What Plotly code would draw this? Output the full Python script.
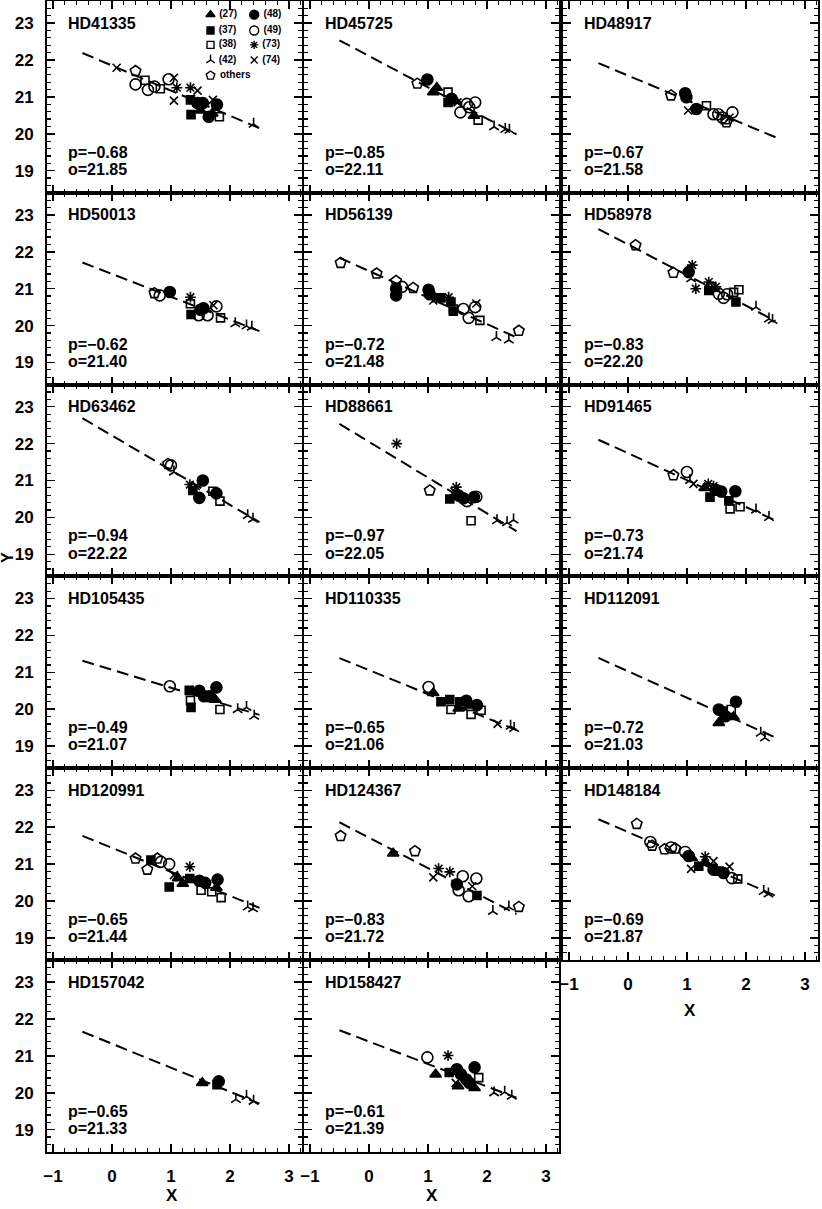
import plotly.graph_objects as go

# ---------------- data ----------------
names = ["HD41335", "HD45725", "HD48917", "HD50013", "HD56139", "HD58978",
         "HD63462", "HD88661", "HD91465", "HD105435", "HD110335", "HD112091",
         "HD120991", "HD124367", "HD148184", "HD157042", "HD158427"]
p_vals = [-0.68, -0.85, -0.67, -0.62, -0.72, -0.83, -0.94, -0.97, -0.73,
          -0.49, -0.65, -0.72, -0.65, -0.83, -0.69, -0.65, -0.61]
o_vals = [21.85, 22.11, 21.58, 21.40, 21.48, 22.20, 22.22, 22.05, 21.74,
          21.07, 21.06, 21.03, 21.44, 21.72, 21.87, 21.33, 21.39]

hd41335_x = [0.08, 0.40, 0.40, 0.56, 0.61, 0.72, 0.82, 0.96, 1.05, 1.05, 1.10, 1.33, 1.45, 1.33, 1.34, 1.45, 1.54, 1.50, 1.64, 1.71, 1.78, 1.82, 1.70, 2.40]
hd41335_y = [21.79, 21.70, 21.34, 21.45, 21.19, 21.28, 21.22, 21.48, 21.52, 20.90, 21.25, 21.25, 21.17, 20.92, 20.52, 20.83, 20.83, 20.63, 20.46, 20.92, 20.79, 20.46, 20.55, 20.26]
hd41335_g = ["74", "oth", "49", "38", "49", "49", "38", "49", "74", "74", "73", "73", "74", "37", "37", "48", "48", "27", "48", "74", "48", "38", "27", "42"]

hd45725_x = [0.82, 0.99, 1.09, 1.15, 1.34, 1.34, 1.46, 1.40, 1.55, 1.66, 1.80, 1.70, 1.78, 1.85, 2.12, 2.31, 2.38, 1.50]
hd45725_y = [21.36, 21.47, 21.13, 21.25, 21.13, 20.85, 20.90, 20.95, 20.58, 20.81, 20.85, 20.72, 20.49, 20.37, 20.19, 20.12, 20.10, 20.85]
hd45725_g = ["oth", "48", "27", "27", "38", "37", "27", "48", "49", "49", "49", "49", "27", "38", "42", "42", "42", "74"]

hd48917_x = [0.73, 0.97, 0.99, 1.02, 1.16, 1.33, 1.45, 1.53, 1.60, 1.77, 1.67, 1.72, 1.65]
hd48917_y = [21.04, 21.10, 20.99, 20.63, 20.67, 20.76, 20.53, 20.53, 20.44, 20.58, 20.31, 20.44, 20.38]
hd48917_g = ["oth", "48", "48", "74", "48", "38", "49", "49", "49", "49", "oth", "74", "38"]

hd50013_x = [0.72, 0.81, 0.98, 1.33, 1.33, 1.34, 1.47, 1.50, 1.55, 1.62, 1.77, 1.72, 1.84, 2.09, 2.28, 2.37]
hd50013_y = [20.88, 20.82, 20.91, 20.77, 20.59, 20.30, 20.28, 20.43, 20.47, 20.28, 20.52, 20.55, 20.21, 20.05, 19.99, 19.96]
hd50013_g = ["oth", "49", "48", "73", "38", "37", "49", "48", "48", "49", "49", "74", "38", "42", "42", "42"]

hd56139_x = [-0.48, 0.13, 0.46, 0.46, 0.46, 0.56, 0.75, 1.01, 1.03, 1.14, 1.09, 1.22, 1.35, 1.39, 1.43, 1.43, 1.60, 1.80, 1.69, 1.88, 1.82, 2.16, 2.37, 2.54]
hd56139_y = [21.70, 21.41, 21.21, 21.00, 20.82, 21.05, 21.02, 20.97, 20.85, 20.73, 20.68, 20.75, 20.77, 20.64, 20.45, 20.39, 20.45, 20.50, 20.21, 20.14, 20.60, 19.68, 19.61, 19.86]
hd56139_g = ["oth", "oth", "oth", "48", "48", "49", "oth", "48", "48", "73", "74", "37", "73", "37", "38", "37", "49", "49", "49", "38", "74", "42", "42", "oth"]

hd58978_x = [0.13, 0.77, 1.03, 1.09, 1.07, 1.15, 1.37, 1.37, 1.41, 1.49, 1.54, 1.68, 1.79, 1.88, 1.83, 1.62, 2.17, 2.39, 2.45]
hd58978_y = [22.18, 21.43, 21.45, 21.64, 21.27, 21.00, 21.18, 20.95, 21.05, 21.05, 20.86, 20.85, 20.90, 20.97, 20.64, 20.75, 20.50, 20.18, 20.14]
hd58978_g = ["oth", "oth", "48", "73", "42", "73", "73", "37", "38", "73", "49", "49", "38", "38", "37", "49", "42", "42", "42"]

hd63462_x = [1.00, 0.95, 1.05, 1.32, 1.37, 1.48, 1.54, 1.42, 1.71, 1.77, 1.83, 2.30, 2.39]
hd63462_y = [21.41, 21.45, 21.23, 20.89, 20.73, 20.53, 21.00, 20.85, 20.71, 20.65, 20.44, 20.05, 19.95]
hd63462_g = ["49", "oth", "42", "73", "37", "48", "48", "74", "38", "48", "38", "42", "42"]

hd88661_x = [0.47, 1.03, 1.48, 1.37, 1.52, 1.60, 1.66, 1.82, 1.78, 1.73, 2.17, 2.34, 2.45, 1.45]
hd88661_y = [22.00, 20.73, 20.82, 20.50, 20.59, 20.52, 20.44, 20.56, 20.55, 19.91, 19.91, 19.86, 19.93, 20.70]
hd88661_g = ["73", "oth", "73", "37", "48", "48", "49", "49", "48", "38", "42", "42", "42", "74"]

hd91465_x = [0.77, 1.00, 1.11, 1.05, 1.36, 1.30, 1.39, 1.49, 1.58, 1.82, 1.71, 1.73, 1.90, 2.17, 2.39, 1.45]
hd91465_y = [21.14, 21.23, 20.91, 21.00, 20.91, 20.80, 20.55, 20.75, 20.70, 20.71, 20.45, 20.23, 20.29, 20.20, 20.00, 20.85]
hd91465_g = ["oth", "49", "74", "42", "73", "27", "37", "48", "48", "48", "37", "38", "38", "42", "42", "73"]

hd105435_x = [0.98, 1.31, 1.33, 1.34, 1.48, 1.56, 1.65, 1.77, 1.75, 1.83, 2.13, 2.28, 2.41]
hd105435_y = [20.62, 20.51, 20.24, 20.05, 20.50, 20.35, 20.35, 20.59, 20.26, 19.99, 19.99, 20.05, 19.81]
hd105435_g = ["49", "37", "38", "37", "48", "48", "48", "48", "27", "38", "42", "42", "42"]

hd110335_x = [1.01, 1.09, 1.22, 1.37, 1.39, 1.52, 1.54, 1.65, 1.73, 1.83, 1.90, 1.70, 2.18, 2.40, 2.46]
hd110335_y = [20.60, 20.44, 20.20, 20.26, 19.99, 20.02, 20.20, 20.23, 19.86, 20.11, 19.97, 20.10, 19.60, 19.54, 19.48]
hd110335_g = ["49", "27", "37", "37", "38", "27", "37", "48", "38", "48", "38", "27", "74", "42", "42"]

hd112091_x = [1.54, 1.54, 1.65, 1.75, 1.83, 1.79, 1.60, 2.25, 2.32]
hd112091_y = [19.99, 19.63, 19.81, 19.99, 20.20, 19.79, 19.95, 19.35, 19.22]
hd112091_g = ["48", "27", "48", "38", "48", "27", "37", "42", "42"]

hd120991_x = [0.40, 0.60, 0.66, 0.77, 0.83, 0.97, 1.05, 1.20, 0.97, 1.32, 1.32, 1.12, 1.48, 1.58, 1.51, 1.69, 1.79, 1.77, 1.85, 2.30, 2.39]
hd120991_y = [21.15, 20.85, 21.11, 21.15, 21.06, 21.00, 20.70, 20.47, 20.38, 20.93, 20.61, 20.62, 20.55, 20.49, 20.29, 20.25, 20.58, 20.36, 20.09, 19.84, 19.79]
hd120991_g = ["oth", "oth", "37", "oth", "49", "49", "74", "27", "37", "73", "37", "27", "48", "48", "38", "38", "48", "27", "38", "42", "42"]

hd124367_x = [-0.48, 0.41, 0.78, 1.18, 1.09, 1.37, 1.59, 1.82, 1.49, 1.52, 1.69, 1.75, 1.83, 2.10, 2.37, 2.54]
hd124367_y = [21.76, 21.29, 21.35, 20.88, 20.64, 20.79, 20.67, 20.61, 20.45, 20.29, 20.13, 20.40, 20.15, 19.72, 19.84, 19.84]
hd124367_g = ["oth", "27", "oth", "73", "74", "73", "49", "49", "48", "49", "49", "74", "37", "42", "42", "oth"]

hd148184_x = [0.15, 0.41, 0.38, 0.62, 0.73, 0.80, 0.97, 1.03, 1.08, 1.07, 1.20, 1.31, 1.31, 1.45, 1.45, 1.54, 1.62, 1.72, 1.76, 1.86, 2.30, 2.38]
hd148184_y = [22.09, 21.50, 21.60, 21.40, 21.45, 21.42, 21.33, 21.22, 21.17, 20.87, 20.94, 21.20, 21.04, 21.08, 20.85, 20.81, 20.76, 20.93, 20.62, 20.60, 20.26, 20.19]
hd148184_g = ["oth", "oth", "49", "oth", "49", "oth", "49", "48", "27", "74", "37", "73", "27", "74", "48", "37", "48", "74", "49", "38", "42", "42"]

hd157042_x = [1.53, 1.81, 1.78, 2.10, 2.28, 2.40]
hd157042_y = [20.27, 20.31, 20.22, 19.82, 19.90, 19.77]
hd157042_g = ["27", "48", "37", "42", "42", "42"]

hd158427_x = [0.99, 1.13, 1.34, 1.36, 1.49, 1.56, 1.65, 1.70, 1.47, 1.51, 1.79, 1.86, 1.79, 2.12, 2.30, 2.42]
hd158427_y = [20.96, 20.50, 21.01, 20.55, 20.64, 20.50, 20.36, 20.27, 20.27, 20.18, 20.69, 20.41, 20.13, 20.00, 20.02, 19.91]
hd158427_g = ["49", "27", "73", "37", "48", "48", "48", "48", "74", "27", "48", "38", "27", "42", "42", "42"]

legend_groups = ["27", "48", "37", "49", "38", "73", "42", "74", "oth"]
legend_labels = ["(27)", "(48)", "(37)", "(49)", "(38)", "(73)", "(42)", "(74)", "others"]

fit_x = [-0.5, 2.5]

panels_x = [hd41335_x, hd45725_x, hd48917_x, hd50013_x, hd56139_x, hd58978_x,
            hd63462_x, hd88661_x, hd91465_x, hd105435_x, hd110335_x, hd112091_x,
            hd120991_x, hd124367_x, hd148184_x, hd157042_x, hd158427_x]
panels_y = [hd41335_y, hd45725_y, hd48917_y, hd50013_y, hd56139_y, hd58978_y,
            hd63462_y, hd88661_y, hd91465_y, hd105435_y, hd110335_y, hd112091_y,
            hd120991_y, hd124367_y, hd148184_y, hd157042_y, hd158427_y]
panels_g = [hd41335_g, hd45725_g, hd48917_g, hd50013_g, hd56139_g, hd58978_g,
            hd63462_g, hd88661_g, hd91465_g, hd105435_g, hd110335_g, hd112091_g,
            hd120991_g, hd124367_g, hd148184_g, hd157042_g, hd158427_g]

# ---------------- styles ----------------
SYMBOL = {"27": "triangle-up", "37": "square", "38": "square-open", "42": "y-up",
          "48": "circle", "49": "circle-open", "73": "asterisk-open",
          "74": "x-thin-open", "oth": "pentagon-open"}
SIZE = {"27": 10, "37": 8, "38": 8, "42": 8, "48": 11, "49": 11, "73": 9,
        "74": 8, "oth": 11}

FONT = "Liberation Sans"
W, H = 822, 1209
ML, MR, MT, MB = 47, 4, 1, 57
PW, PH = W - ML - MR, H - MT - MB
col_px = [(47, 302), (304, 559), (563, 818)]
row_h = 191.8

XR = [-1.1, 3.22]
YR = [18.4, 23.6]

fig = go.Figure()

axis_common = dict(showgrid=False, zeroline=False, showline=True, linewidth=2,
                   linecolor="black", mirror="allticks", ticks="inside",
                   ticklen=8, tickwidth=1.5, tickcolor="black", dtick=1, tick0=0,
                   tickmode="linear",
                   minor=dict(dtick=0.2, tick0=0, ticks="inside", ticklen=4,
                              tickwidth=1.2, tickcolor="black", showgrid=False),
                   tickfont=dict(family=FONT, size=17, color="black", weight="bold"),
                   ticklabelstandoff=8, fixedrange=True, automargin=False)

for i, name in enumerate(names):
    r, c = divmod(i, 3)
    k = i + 1
    xa = "x" if k == 1 else f"x{k}"
    ya = "y" if k == 1 else f"y{k}"
    x0, x1 = col_px[c]
    top = MT + row_h * r
    bot = MT + row_h * (r + 1)
    xdom = [(x0 - ML) / PW, (x1 - ML) / PW]
    ydom = [max(0, (H - MB - bot) / PH), min(1, (H - MB - top) / PH)]
    show_x = (r == 5) or (r == 4 and c == 2)
    show_y = (c == 0)
    xaxis = dict(axis_common, range=XR, domain=xdom, anchor=ya, showticklabels=show_x)
    yaxis = dict(axis_common, range=YR, domain=ydom, anchor=xa, showticklabels=show_y)
    fig.layout["xaxis" if k == 1 else f"xaxis{k}"] = xaxis
    fig.layout["yaxis" if k == 1 else f"yaxis{k}"] = yaxis

    # fit line
    p, o = p_vals[i], o_vals[i]
    fig.add_trace(go.Scatter(x=fit_x, y=[o + p * v for v in fit_x], mode="lines",
                             line=dict(color="black", width=2, dash="12px,6px"),
                             xaxis=xa, yaxis=ya, showlegend=False, hoverinfo="skip"))
    # points
    g = panels_g[i]
    fig.add_trace(go.Scatter(x=panels_x[i], y=panels_y[i], mode="markers",
                             marker=dict(symbol=[SYMBOL[s] for s in g],
                                         size=[SIZE[s] for s in g], color="black",
                                         opacity=1,
                                         line=dict(color="black", width=1.6)),
                             opacity=1,
                             xaxis=xa, yaxis=ya, showlegend=False))
    # labels
    fig.add_annotation(x=-0.78, y=23.0, xref=xa, yref=ya, text=name, showarrow=False,
                       xanchor="left", yanchor="middle",
                       font=dict(family=FONT, size=16, color="black", weight="bold"))
    fig.add_annotation(x=-0.78, y=19.5, xref=xa, yref=ya, text=f"p={p:.2f}".replace("-", "\u2212"),
                       showarrow=False, xanchor="left", yanchor="middle",
                       font=dict(family=FONT, size=16, color="black", weight="bold"))
    fig.add_annotation(x=-0.78, y=19.03, xref=xa, yref=ya, text=f"o={o:.2f}",
                       showarrow=False, xanchor="left", yanchor="middle",
                       font=dict(family=FONT, size=16, color="black", weight="bold"))

# legend inside first panel (two columns)
leg_x = [1.67, 2.41, 1.67, 2.41, 1.67, 2.41, 1.67, 2.41, 1.67]
leg_y = [23.23, 23.23, 22.80, 22.80, 22.41, 22.41, 22.00, 22.00, 21.58]
fig.add_trace(go.Scatter(x=leg_x, y=leg_y, mode="markers+text",
                         text=[" " + t for t in legend_labels], textposition="middle right",
                         textfont=dict(family=FONT, size=10, color="black", weight="bold"),
                         marker=dict(symbol=[SYMBOL[s] for s in legend_groups],
                                     size=[max(7, SIZE[s] - 2) for s in legend_groups],
                                     color="black", opacity=1,
                                     line=dict(color="black", width=1.4)),
                         xaxis="x", yaxis="y", showlegend=False, hoverinfo="skip"))

# axis titles
def px_to_paper_x(px):
    return (px - ML) / PW

def px_to_paper_y(py):
    return (H - MB - py) / PH

for cx, cy in [(172, 1195), (432, 1195), (690, 1010)]:
    fig.add_annotation(x=px_to_paper_x(cx), y=px_to_paper_y(cy), xref="paper", yref="paper",
                       text="X", showarrow=False, xanchor="center", yanchor="middle",
                       font=dict(family=FONT, size=17, color="black", weight="bold"))
fig.add_annotation(x=px_to_paper_x(7), y=px_to_paper_y(558), xref="paper", yref="paper",
                   text="Y", showarrow=False, xanchor="center", yanchor="middle", textangle=-90,
                   font=dict(family=FONT, size=16, color="black", weight="bold"))

fig.update_layout(template="none", width=W, height=H,
                  margin=dict(l=ML, r=MR, t=MT, b=MB, autoexpand=False),
                  paper_bgcolor="white", plot_bgcolor="white",
                  font=dict(family=FONT, size=15, color="black", weight="bold"),
                  showlegend=False, hovermode=False)

fig.write_html("out.html", config={"displayModeBar": False, "staticPlot": True},
               post_script="document.body.style.margin='0px';document.body.style.overflow='hidden';")
